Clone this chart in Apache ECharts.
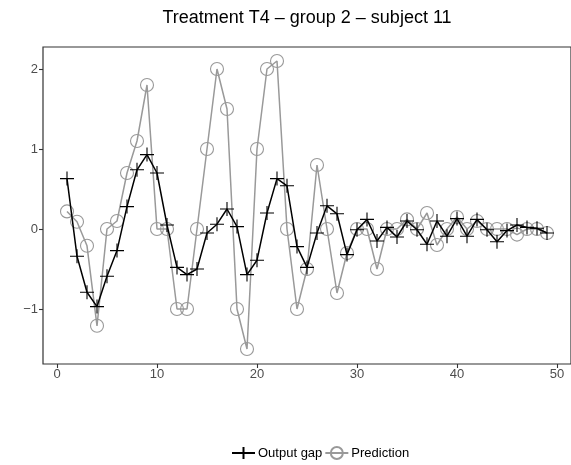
<!DOCTYPE html>
<html><head><meta charset="utf-8">
<script src="https://cdn.jsdelivr.net/npm/echarts@6/dist/echarts.min.js"></script>
<style>html,body{margin:0;padding:0;background:#fff}#c{width:571px;height:465px}</style>
</head><body><div id="c"></div>
<script>
const xs = [1,2,3,4,5,6,7,8,9,10,11,12,13,14,15,16,17,18,19,20,21,22,23,24,25,26,27,28,29,30,31,32,33,34,35,36,37,38,39,40,41,42,43,44,45,46,47,48,49];
const outputGap = [0.63,-0.34,-0.79,-0.97,-0.59,-0.27,0.28,0.74,0.93,0.70,0.05,-0.48,-0.57,-0.50,-0.05,0.06,0.25,0.03,-0.57,-0.39,0.20,0.63,0.54,-0.22,-0.48,-0.05,0.29,0.19,-0.32,-0.01,0.12,-0.15,0.02,-0.10,0.10,-0.01,-0.19,0.10,-0.09,0.13,-0.09,0.12,-0.01,-0.16,-0.02,0.05,0.02,0.01,-0.05];
const prediction = [0.22,0.09,-0.21,-1.21,0,0.10,0.70,1.10,1.80,0,0,-1.0,-1.0,0,1.0,2.0,1.5,-1.0,-1.5,1.0,2.0,2.1,0,-1.0,-0.5,0.8,0,-0.8,-0.3,0,0,-0.5,0,0,0.12,0,0.2,-0.2,0,0.15,0,0.1,0,0,0,-0.07,0,0,-0.05];
const xTicks = [0,10,20,30,40,50];
const yTicks = [-1,0,1,2];
const seriesNames = ['Output gap','Prediction'];

const cross = 'path://M5,0L5,10M0,5L10,5';
const chart = echarts.init(document.getElementById('c'), null, {renderer:'canvas'});
const font = 'Liberation Sans, Arial, Helvetica, sans-serif';
chart.setOption({
  animation:false,
  title:{text:'Treatment T4 \u2013 group 2 \u2013 subject 11', left:302, top:4, textAlign:'center',
    textStyle:{fontFamily:font, fontSize:18, fontWeight:'normal', color:'#000'}},
  legend:{left:226, top:441, itemWidth:23, itemHeight:15, itemGap:2,
    textStyle:{fontFamily:font, fontSize:13, color:'#000', padding:[0,0,0,-2]},
    data:seriesNames},
  grid:{left:43, top:47, right:-1, bottom:101, show:true, borderColor:'#333', borderWidth:1.2},
  xAxis:{type:'value', min:-1.4, max:51.4,
    axisLine:{show:false, onZero:false}, splitLine:{show:false},
    axisTick:{show:true, length:4, lineStyle:{color:'#333', width:1.1}, customValues:xTicks},
    axisLabel:{customValues:xTicks, color:'#4d4d4d', fontFamily:font, fontSize:13, margin:4}},
  yAxis:{type:'value', min:-1.6875, max:2.275,
    axisLine:{show:false, onZero:false}, splitLine:{show:false},
    axisTick:{show:true, length:4, lineStyle:{color:'#333', width:1.1}, customValues:yTicks},
    axisLabel:{customValues:yTicks, color:'#4d4d4d', fontFamily:font, fontSize:13, margin:5,
      formatter:v=>v<0?'\u2212'+Math.abs(v):String(v)}},
  series:[
    {name:seriesNames[1], type:'line', data:xs.map((x,i)=>[x,prediction[i]]),
      symbol:'circle', symbolSize:13, z:2,
      lineStyle:{color:'#999', width:1.5},
      itemStyle:{color:'rgba(0,0,0,0)', borderColor:'#999', borderWidth:1.1}},
    {name:seriesNames[0], type:'line', data:xs.map((x,i)=>[x,outputGap[i]]),
      symbol:cross, symbolSize:14, z:3,
      lineStyle:{color:'#000', width:1.5},
      itemStyle:{color:'rgba(0,0,0,0)', borderColor:'#000', borderWidth:1.1}}
  ]
});
</script></body></html>
